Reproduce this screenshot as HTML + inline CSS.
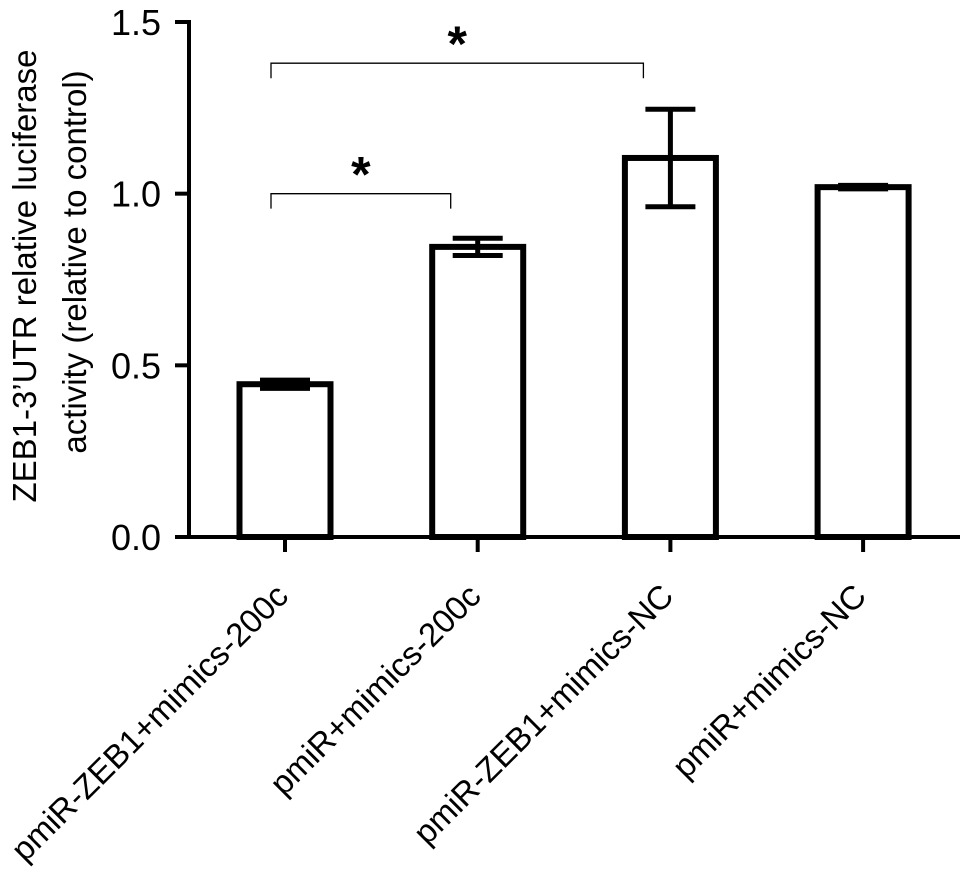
<!DOCTYPE html>
<html><head><meta charset="utf-8"><style>
html,body{margin:0;padding:0;background:#fff;}
svg{display:block;font-family:"Liberation Sans",Arial,sans-serif;}
</style></head><body>
<svg id="chart" width="971" height="892" viewBox="0 0 971 892"></svg>
<script>
const categories=["pmiR-ZEB1+mimics-200c","pmiR+mimics-200c","pmiR-ZEB1+mimics-NC","pmiR+mimics-NC"];
const values=[0.445,0.845,1.104,1.019];
const errors=[0.012,0.025,0.142,0.005];
const yTicks=[0,0.5,1.0,1.5];
const yTickLabels=["0.0","0.5","1.0","1.5"];
const sigPairs=[[0,1],[0,2]];
const sigLevels=[1.0,1.38];

const NS="http://www.w3.org/2000/svg";
const svg=document.getElementById('chart');
const y0=537,yTop=22,yMax=1.5;
function y(v){return y0-(v/yMax)*(y0-yTop);}
function x(i){return 285+i*192.7;}
function el(tag,attrs,parent){const e=document.createElementNS(NS,tag);for(const k in attrs)e.setAttribute(k,attrs[k]);(parent||svg).appendChild(e);return e;}

const ya=el('line',{x1:189,y1:y(1.5)-2,x2:189,y2:y0+2,stroke:'#000','stroke-width':4});


const xa=el('line',{x1:175,y1:y0,x2:960,y2:y0,stroke:'#000','stroke-width':4});



yTicks.forEach((t,i)=>{
  const tk=el('line',{x1:175,y1:y(t),x2:189,y2:y(t),stroke:'#000','stroke-width':4});
  
  
  const lb=el('text',{x:161,y:y(t)+13,'text-anchor':'end','font-size':36});
  lb.textContent=yTickLabels[i];
  
  
});

const t1=el('text',{x:0,y:0,'text-anchor':'middle','font-size':33,transform:'translate(36,276) rotate(-90)'});
t1.textContent="ZEB1-3’UTR relative luciferase";


const t2=el('text',{x:0,y:0,'text-anchor':'middle','font-size':33,transform:'translate(86,262) rotate(-90)'});
t2.textContent="activity (relative to control)";



const bw=91;
categories.forEach((c,i)=>{
  const cx=x(i);
  const b=el('rect',{x:cx-bw/2,y:y(values[i]),width:bw,height:y0-y(values[i]),fill:'#fff',stroke:'#000','stroke-width':6});
  
  
  const hi=y(values[i]+errors[i]),lo=y(values[i]-errors[i]);
  const g=el('g',{stroke:'#000','stroke-width':5});
  
  
  el('line',{x1:cx,y1:hi,x2:cx,y2:lo},g);
  el('line',{x1:cx-25,y1:hi,x2:cx+25,y2:hi},g);
  el('line',{x1:cx-25,y1:lo,x2:cx+25,y2:lo},g);
  const tk=el('line',{x1:cx,y1:y0,x2:cx,y2:552,stroke:'#000','stroke-width':4});
  
  
  const lb=el('text',{x:0,y:0,'text-anchor':'end','font-size':33,transform:`translate(${cx+5},598) rotate(-45)`});
  lb.textContent=c;
  
  
});

sigPairs.forEach((p,k)=>{
  const yy=y(sigLevels[k]);
  const xa1=x(p[0])-14,xb=x(p[1])-27;
  const g=el('g',{stroke:'#000','stroke-width':1.3,fill:'none'});
  
  
  el('path',{d:`M${xa1},${yy+15} V${yy} H${xb} V${yy+15}`},g);
  const s=el('text',{x:(xa1+xb)/2,y:yy-2,'text-anchor':'middle','font-size':50,'font-weight':'bold'});
  s.textContent='*';
  
  
});
</script>
</body></html>
